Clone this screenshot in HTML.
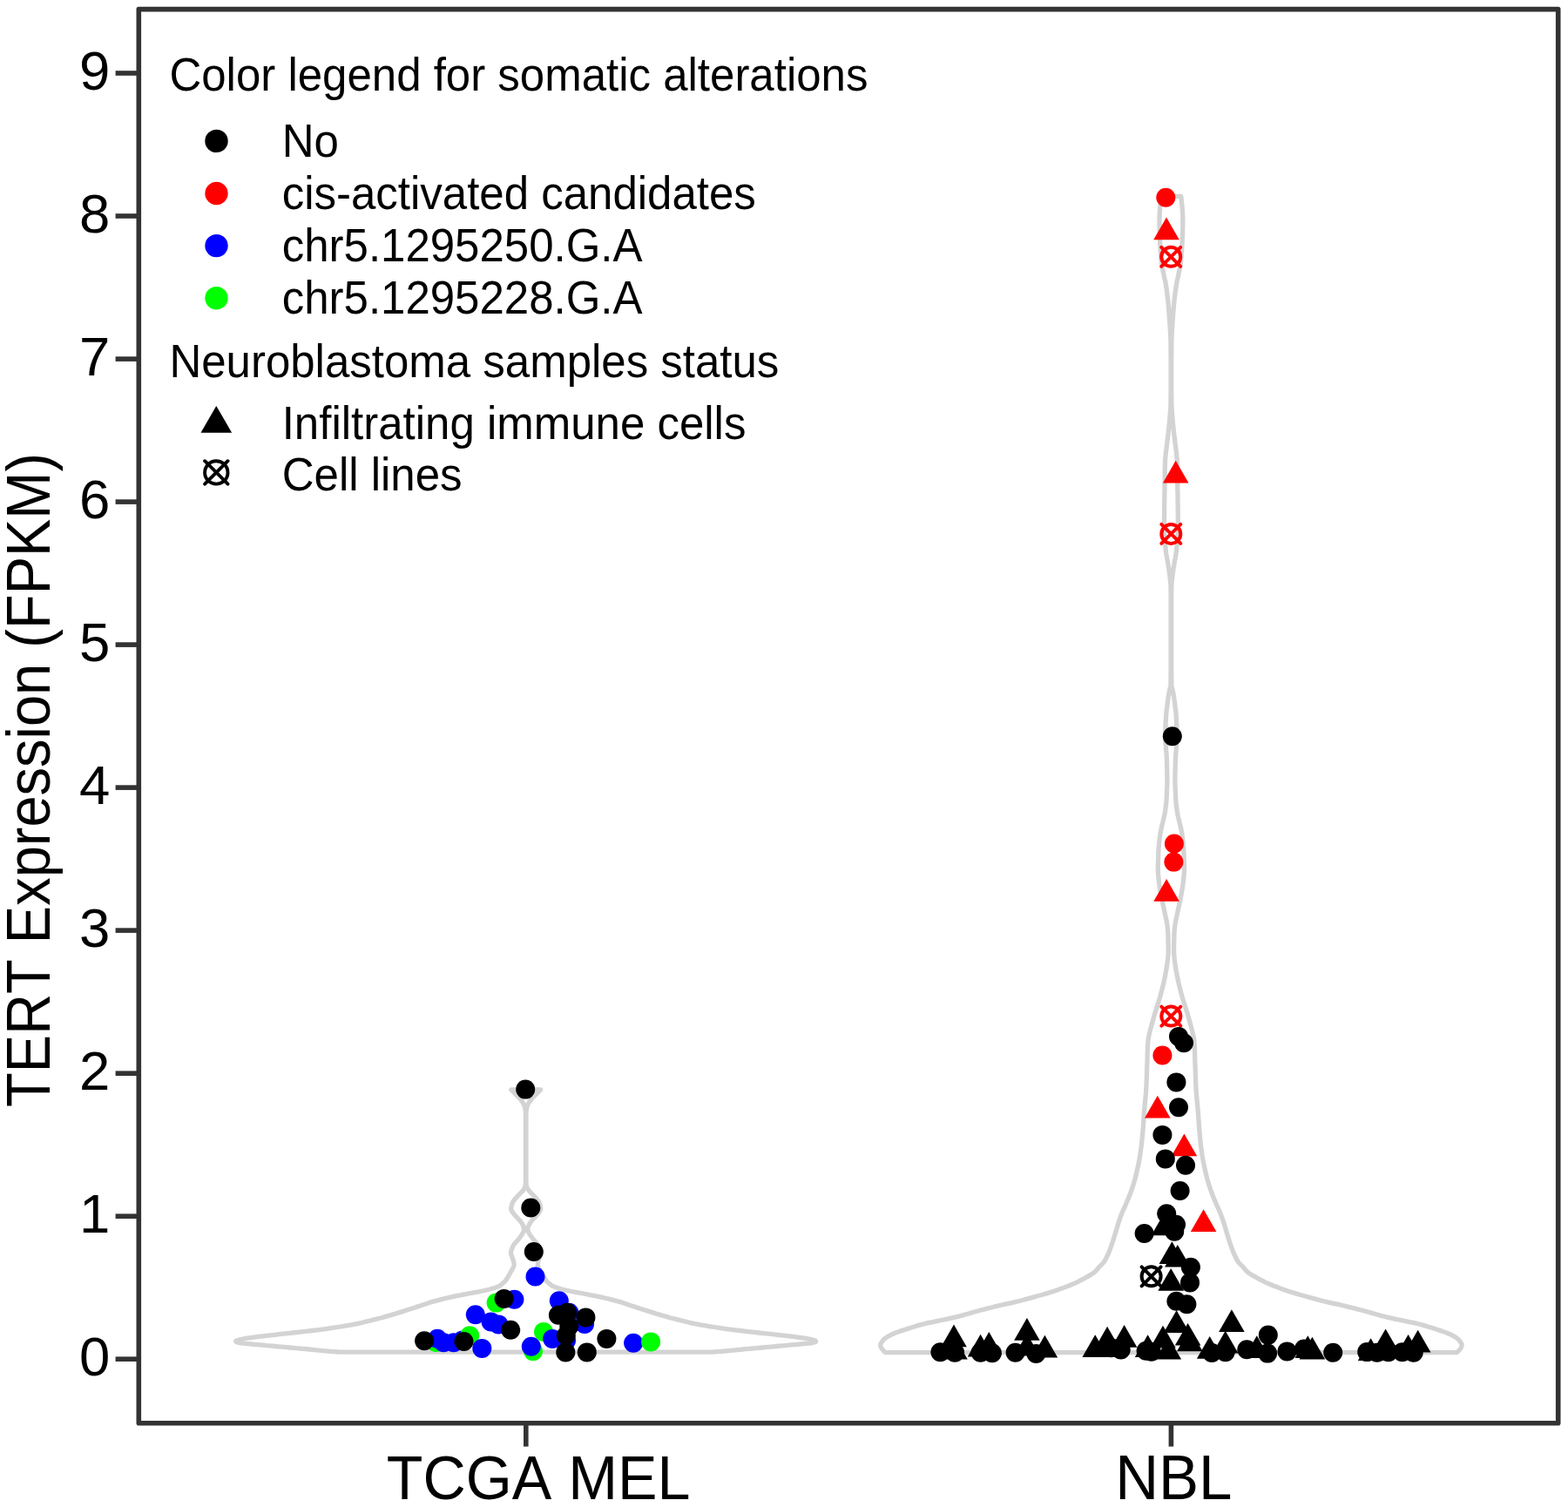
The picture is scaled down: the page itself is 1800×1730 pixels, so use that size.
<!DOCTYPE html>
<html><head><meta charset="utf-8"><title>TERT Expression violin plot</title>
<style>html,body{margin:0;padding:0;background:#fff;}svg{display:block;}text{font-kerning:none;}</style>
</head><body>
<svg width="1800" height="1730" viewBox="0 0 1800 1730">
<rect width="1800" height="1730" fill="#ffffff"/>
<g fill="none" stroke="#d3d3d3" stroke-width="5.3" stroke-linejoin="round">
<path d="M620.7 1251.0 L620.3 1251.4 L619.7 1252.0 L619.0 1252.7 L618.3 1253.4 L617.5 1254.2 L616.7 1255.0 L615.9 1255.8 L615.1 1256.6 L614.2 1257.4 L613.3 1258.3 L612.5 1259.2 L611.7 1260.0 L611.0 1260.8 L610.2 1261.7 L609.5 1262.5 L608.9 1263.3 L608.3 1264.2 L607.7 1265.0 L607.2 1265.8 L606.7 1266.6 L606.3 1267.4 L605.9 1268.3 L605.5 1269.1 L605.2 1270.0 L604.9 1270.8 L604.7 1271.6 L604.5 1272.4 L604.3 1273.4 L604.2 1274.5 L604.1 1276.0 L604.0 1277.3 L604.0 1278.4 L603.9 1279.6 L603.9 1281.6 L603.9 1284.9 L603.9 1290.0 L603.9 1297.9 L603.9 1308.4 L603.9 1320.2 L603.9 1332.0 L603.9 1342.4 L603.9 1350.0 L603.9 1354.6 L604.0 1357.3 L604.0 1358.5 L604.1 1359.0 L604.2 1359.3 L604.3 1360.0 L604.4 1361.0 L604.5 1361.8 L604.6 1362.4 L604.8 1362.9 L605.0 1363.4 L605.3 1364.0 L605.7 1364.7 L606.1 1365.3 L606.6 1366.0 L607.1 1366.7 L607.6 1367.3 L608.2 1368.0 L608.8 1368.7 L609.5 1369.3 L610.2 1370.0 L610.9 1370.7 L611.5 1371.3 L612.2 1372.0 L612.8 1372.7 L613.4 1373.3 L614.0 1374.0 L614.6 1374.7 L615.2 1375.3 L615.7 1376.0 L616.2 1376.6 L616.8 1377.2 L617.3 1377.8 L617.8 1378.5 L618.3 1379.2 L618.7 1380.0 L619.1 1381.0 L619.5 1382.1 L619.9 1383.3 L620.3 1384.5 L620.5 1385.7 L620.7 1386.6 L620.8 1387.3 L620.7 1387.9 L620.6 1388.5 L620.4 1388.9 L620.2 1389.4 L619.9 1390.0 L619.6 1390.6 L619.2 1391.3 L618.8 1391.9 L618.3 1392.6 L617.8 1393.3 L617.2 1394.0 L616.5 1394.8 L615.8 1395.6 L615.0 1396.5 L614.2 1397.4 L613.4 1398.2 L612.7 1399.0 L612.0 1399.7 L611.4 1400.4 L610.8 1401.0 L610.3 1401.6 L609.7 1402.3 L609.2 1403.0 L608.7 1403.8 L608.2 1404.6 L607.7 1405.5 L607.2 1406.4 L606.8 1407.2 L606.5 1408.0 L606.3 1408.7 L606.1 1409.3 L606.0 1409.8 L605.9 1410.4 L605.9 1410.9 L605.9 1411.5 L605.9 1412.1 L606.0 1412.6 L606.2 1413.2 L606.3 1413.7 L606.6 1414.3 L606.9 1415.0 L607.3 1415.7 L607.8 1416.6 L608.4 1417.4 L609.0 1418.3 L609.6 1419.1 L610.2 1420.0 L610.8 1420.8 L611.5 1421.7 L612.2 1422.5 L612.8 1423.3 L613.5 1424.2 L614.2 1425.0 L614.9 1425.8 L615.6 1426.6 L616.3 1427.3 L617.0 1428.1 L617.6 1429.0 L618.2 1430.0 L618.8 1431.2 L619.3 1432.5 L619.9 1433.8 L620.3 1435.2 L620.7 1436.5 L620.9 1437.6 L621.0 1438.5 L620.9 1439.3 L620.7 1440.0 L620.4 1440.6 L620.2 1441.3 L619.9 1442.0 L619.6 1442.8 L619.4 1443.6 L619.0 1444.5 L618.7 1445.3 L618.4 1446.2 L618.2 1447.0 L618.0 1447.8 L617.8 1448.7 L617.6 1449.6 L617.4 1450.4 L617.3 1451.2 L617.3 1452.0 L617.4 1452.7 L617.6 1453.4 L617.8 1454.1 L618.1 1454.7 L618.4 1455.3 L618.7 1456.0 L619.0 1456.7 L619.4 1457.3 L619.8 1458.0 L620.2 1458.7 L620.6 1459.3 L621.0 1460.0 L621.4 1460.7 L621.7 1461.3 L622.1 1462.0 L622.5 1462.7 L622.8 1463.4 L623.2 1464.0 L623.6 1464.6 L623.9 1465.3 L624.3 1465.9 L624.7 1466.5 L625.0 1467.1 L625.4 1467.7 L625.8 1468.3 L626.1 1468.8 L626.5 1469.4 L626.8 1469.9 L627.2 1470.5 L627.7 1471.0 L628.2 1471.5 L628.8 1472.0 L629.4 1472.5 L630.0 1473.0 L630.6 1473.5 L631.2 1474.0 L631.7 1474.4 L632.2 1474.9 L632.6 1475.2 L633.2 1475.6 L633.8 1476.1 L634.7 1476.5 L635.8 1477.0 L637.0 1477.5 L638.4 1478.0 L639.9 1478.5 L641.5 1479.0 L643.2 1479.5 L645.0 1480.0 L647.0 1480.5 L649.1 1481.0 L651.3 1481.5 L653.5 1482.0 L655.7 1482.5 L657.9 1482.9 L660.1 1483.3 L662.3 1483.7 L664.6 1484.1 L667.0 1484.5 L669.7 1485.0 L672.6 1485.6 L675.6 1486.1 L678.8 1486.8 L682.1 1487.4 L685.5 1488.1 L688.9 1488.9 L692.4 1489.7 L696.1 1490.5 L699.8 1491.4 L703.6 1492.4 L707.4 1493.4 L711.1 1494.4 L714.8 1495.5 L718.4 1496.7 L722.1 1497.9 L725.7 1499.2 L729.5 1500.4 L733.3 1501.7 L737.3 1503.0 L741.3 1504.3 L745.5 1505.6 L749.6 1506.9 L753.7 1508.2 L757.7 1509.4 L761.6 1510.5 L765.5 1511.6 L769.3 1512.7 L773.1 1513.7 L776.9 1514.6 L780.7 1515.6 L784.4 1516.5 L788.0 1517.4 L791.5 1518.3 L795.2 1519.1 L799.2 1519.9 L803.7 1520.8 L808.7 1521.7 L814.2 1522.6 L820.1 1523.5 L826.0 1524.4 L831.9 1525.3 L837.7 1526.1 L843.3 1526.8 L849.0 1527.5 L854.6 1528.2 L860.2 1528.8 L865.7 1529.4 L871.1 1530.0 L876.5 1530.6 L881.8 1531.2 L887.1 1531.7 L892.2 1532.3 L897.1 1532.8 L901.7 1533.3 L906.0 1533.8 L910.1 1534.3 L914.0 1534.8 L917.6 1535.3 L920.8 1535.8 L923.7 1536.2 L926.1 1536.6 L928.2 1537.0 L929.9 1537.3 L931.3 1537.7 L932.6 1538.0 L933.7 1538.3 L934.7 1538.6 L935.5 1538.8 L936.1 1539.1 L936.5 1539.3 L936.7 1539.5 L936.7 1539.8 L936.6 1540.1 L936.4 1540.3 L936.0 1540.6 L935.3 1540.9 L934.2 1541.2 L932.7 1541.5 L930.7 1541.8 L928.1 1542.1 L925.3 1542.4 L922.1 1542.7 L918.9 1543.0 L915.7 1543.3 L912.4 1543.6 L909.0 1543.9 L905.4 1544.2 L901.8 1544.6 L898.2 1544.9 L894.7 1545.2 L891.3 1545.5 L888.0 1545.8 L884.8 1546.1 L881.5 1546.4 L878.1 1546.7 L874.7 1547.0 L871.1 1547.3 L867.3 1547.7 L863.5 1548.0 L859.7 1548.4 L856.1 1548.7 L852.7 1549.0 L849.6 1549.3 L846.6 1549.6 L843.9 1549.9 L841.2 1550.1 L838.7 1550.4 L836.3 1550.6 L834.1 1550.8 L832.0 1551.0 L830.0 1551.2 L828.2 1551.3 L826.4 1551.5 L824.7 1551.6 L823.0 1551.7 L821.3 1551.9 L819.7 1552.0 L818.3 1552.1 L817.1 1552.1 L816.2 1552.2 L391.2 1552.2 L390.3 1552.1 L389.1 1552.1 L387.7 1552.0 L386.1 1551.9 L384.4 1551.7 L382.7 1551.6 L381.0 1551.5 L379.2 1551.3 L377.4 1551.2 L375.4 1551.0 L373.3 1550.8 L371.1 1550.6 L368.7 1550.4 L366.2 1550.1 L363.5 1549.9 L360.8 1549.6 L357.8 1549.3 L354.7 1549.0 L351.3 1548.7 L347.7 1548.4 L343.9 1548.0 L340.1 1547.7 L336.3 1547.3 L332.7 1547.0 L329.3 1546.7 L325.9 1546.4 L322.6 1546.1 L319.4 1545.8 L316.1 1545.5 L312.7 1545.2 L309.2 1544.9 L305.6 1544.6 L302.0 1544.2 L298.4 1543.9 L295.0 1543.6 L291.7 1543.3 L288.5 1543.0 L285.3 1542.7 L282.1 1542.4 L279.3 1542.1 L276.7 1541.8 L274.7 1541.5 L273.2 1541.2 L272.1 1540.9 L271.5 1540.6 L271.0 1540.3 L270.8 1540.1 L270.7 1539.8 L270.7 1539.5 L270.9 1539.3 L271.3 1539.1 L271.9 1538.8 L272.7 1538.6 L273.7 1538.3 L274.8 1538.0 L276.1 1537.7 L277.5 1537.3 L279.2 1537.0 L281.3 1536.6 L283.7 1536.2 L286.6 1535.8 L289.8 1535.3 L293.4 1534.8 L297.3 1534.3 L301.4 1533.8 L305.7 1533.3 L310.3 1532.8 L315.2 1532.3 L320.3 1531.7 L325.6 1531.2 L330.9 1530.6 L336.3 1530.0 L341.7 1529.4 L347.2 1528.8 L352.8 1528.2 L358.4 1527.5 L364.1 1526.8 L369.7 1526.1 L375.5 1525.3 L381.4 1524.4 L387.4 1523.5 L393.2 1522.6 L398.7 1521.7 L403.7 1520.8 L408.2 1519.9 L412.2 1519.1 L415.9 1518.3 L419.4 1517.4 L423.0 1516.5 L426.7 1515.6 L430.5 1514.6 L434.3 1513.7 L438.1 1512.7 L441.9 1511.6 L445.8 1510.5 L449.7 1509.4 L453.7 1508.2 L457.8 1506.9 L462.0 1505.6 L466.1 1504.3 L470.1 1503.0 L474.1 1501.7 L477.9 1500.4 L481.7 1499.2 L485.3 1497.9 L489.0 1496.7 L492.6 1495.5 L496.3 1494.4 L500.0 1493.4 L503.8 1492.4 L507.6 1491.4 L511.3 1490.5 L515.0 1489.7 L518.5 1488.9 L521.9 1488.1 L525.3 1487.4 L528.6 1486.8 L531.8 1486.1 L534.8 1485.6 L537.7 1485.0 L540.4 1484.5 L542.8 1484.1 L545.1 1483.7 L547.3 1483.3 L549.5 1482.9 L551.7 1482.5 L553.9 1482.0 L556.1 1481.5 L558.3 1481.0 L560.4 1480.5 L562.4 1480.0 L564.2 1479.5 L565.9 1479.0 L567.5 1478.5 L569.0 1478.0 L570.4 1477.5 L571.6 1477.0 L572.7 1476.5 L573.6 1476.1 L574.2 1475.6 L574.8 1475.2 L575.2 1474.9 L575.7 1474.4 L576.2 1474.0 L576.8 1473.5 L577.4 1473.0 L578.0 1472.5 L578.6 1472.0 L579.2 1471.5 L579.7 1471.0 L580.2 1470.5 L580.6 1469.9 L580.9 1469.4 L581.3 1468.8 L581.6 1468.3 L582.0 1467.7 L582.4 1467.1 L582.7 1466.5 L583.1 1465.9 L583.5 1465.3 L583.8 1464.6 L584.2 1464.0 L584.6 1463.4 L584.9 1462.7 L585.3 1462.0 L585.7 1461.3 L586.0 1460.7 L586.4 1460.0 L586.8 1459.3 L587.2 1458.7 L587.6 1458.0 L588.0 1457.3 L588.4 1456.7 L588.7 1456.0 L589.0 1455.3 L589.3 1454.7 L589.6 1454.1 L589.8 1453.4 L590.0 1452.7 L590.1 1452.0 L590.1 1451.2 L590.0 1450.4 L589.8 1449.6 L589.6 1448.7 L589.4 1447.8 L589.2 1447.0 L589.0 1446.2 L588.7 1445.3 L588.4 1444.5 L588.0 1443.6 L587.8 1442.8 L587.5 1442.0 L587.2 1441.3 L587.0 1440.6 L586.7 1440.0 L586.5 1439.3 L586.4 1438.5 L586.5 1437.6 L586.7 1436.5 L587.1 1435.2 L587.5 1433.8 L588.1 1432.5 L588.6 1431.2 L589.2 1430.0 L589.8 1429.0 L590.4 1428.1 L591.1 1427.3 L591.8 1426.6 L592.5 1425.8 L593.2 1425.0 L593.9 1424.2 L594.6 1423.3 L595.2 1422.5 L595.9 1421.7 L596.6 1420.8 L597.2 1420.0 L597.8 1419.1 L598.4 1418.3 L599.0 1417.4 L599.6 1416.6 L600.1 1415.7 L600.5 1415.0 L600.8 1414.3 L601.1 1413.7 L601.2 1413.2 L601.4 1412.6 L601.5 1412.1 L601.5 1411.5 L601.5 1410.9 L601.5 1410.4 L601.4 1409.8 L601.3 1409.3 L601.1 1408.7 L600.9 1408.0 L600.6 1407.2 L600.2 1406.4 L599.7 1405.5 L599.2 1404.6 L598.7 1403.8 L598.2 1403.0 L597.7 1402.3 L597.1 1401.6 L596.6 1401.0 L596.0 1400.4 L595.4 1399.7 L594.7 1399.0 L594.0 1398.2 L593.2 1397.4 L592.4 1396.5 L591.6 1395.6 L590.9 1394.8 L590.2 1394.0 L589.6 1393.3 L589.1 1392.6 L588.6 1391.9 L588.2 1391.3 L587.8 1390.6 L587.5 1390.0 L587.2 1389.4 L587.0 1388.9 L586.8 1388.5 L586.7 1387.9 L586.6 1387.3 L586.7 1386.6 L586.9 1385.7 L587.1 1384.5 L587.5 1383.3 L587.9 1382.1 L588.3 1381.0 L588.7 1380.0 L589.1 1379.2 L589.6 1378.5 L590.1 1377.8 L590.6 1377.2 L591.2 1376.6 L591.7 1376.0 L592.2 1375.3 L592.8 1374.7 L593.4 1374.0 L594.0 1373.3 L594.6 1372.7 L595.2 1372.0 L595.9 1371.3 L596.5 1370.7 L597.2 1370.0 L597.9 1369.3 L598.6 1368.7 L599.2 1368.0 L599.8 1367.3 L600.3 1366.7 L600.8 1366.0 L601.3 1365.3 L601.7 1364.7 L602.1 1364.0 L602.4 1363.4 L602.6 1362.9 L602.8 1362.4 L602.9 1361.8 L603.0 1361.0 L603.1 1360.0 L603.2 1359.3 L603.3 1359.0 L603.4 1358.5 L603.4 1357.3 L603.5 1354.6 L603.5 1350.0 L603.5 1342.4 L603.5 1332.0 L603.5 1320.2 L603.5 1308.4 L603.5 1297.9 L603.5 1290.0 L603.5 1284.9 L603.5 1281.6 L603.5 1279.6 L603.4 1278.4 L603.4 1277.3 L603.3 1276.0 L603.2 1274.5 L603.1 1273.4 L602.9 1272.4 L602.7 1271.6 L602.5 1270.8 L602.2 1270.0 L601.9 1269.1 L601.5 1268.3 L601.1 1267.4 L600.7 1266.6 L600.2 1265.8 L599.7 1265.0 L599.1 1264.2 L598.5 1263.3 L597.9 1262.5 L597.2 1261.7 L596.4 1260.8 L595.7 1260.0 L594.9 1259.2 L594.1 1258.3 L593.2 1257.4 L592.3 1256.6 L591.5 1255.8 L590.7 1255.0 L589.9 1254.2 L589.1 1253.4 L588.4 1252.7 L587.7 1252.0 L587.1 1251.4 L586.7 1251.0 Z"/>
<path d="M1355.7 225.4 L1355.9 226.8 L1356.1 228.7 L1356.4 230.9 L1356.6 233.3 L1356.9 235.7 L1357.1 238.0 L1357.3 240.1 L1357.4 242.3 L1357.5 244.5 L1357.7 246.7 L1357.7 248.8 L1357.8 251.0 L1357.8 253.2 L1357.8 255.4 L1357.8 257.6 L1357.8 259.7 L1357.7 261.9 L1357.7 264.0 L1357.6 266.0 L1357.6 268.0 L1357.5 269.9 L1357.4 271.9 L1357.3 273.9 L1357.2 276.0 L1357.1 278.2 L1357.0 280.6 L1356.8 283.0 L1356.7 285.4 L1356.6 287.8 L1356.4 290.0 L1356.2 292.1 L1356.1 294.1 L1356.0 296.1 L1355.8 298.0 L1355.6 300.0 L1355.3 302.0 L1355.0 304.1 L1354.6 306.3 L1354.2 308.5 L1353.8 310.7 L1353.3 312.9 L1352.9 315.0 L1352.5 317.0 L1352.1 318.8 L1351.7 320.6 L1351.2 322.5 L1350.8 324.6 L1350.4 327.0 L1350.0 329.8 L1349.5 332.8 L1349.1 336.1 L1348.7 339.4 L1348.3 342.8 L1347.9 346.0 L1347.6 349.2 L1347.3 352.5 L1347.1 355.8 L1346.8 359.0 L1346.6 362.1 L1346.4 365.0 L1346.2 367.8 L1346.0 370.4 L1345.8 373.0 L1345.7 375.4 L1345.5 377.8 L1345.4 380.0 L1345.3 381.9 L1345.2 383.3 L1345.1 384.6 L1345.0 386.1 L1345.0 388.2 L1344.9 391.0 L1344.8 394.7 L1344.8 398.9 L1344.8 403.7 L1344.7 408.9 L1344.7 414.3 L1344.7 420.0 L1344.7 426.3 L1344.7 433.5 L1344.7 441.0 L1344.7 448.3 L1344.8 454.8 L1344.8 460.0 L1344.9 463.7 L1344.9 466.4 L1345.0 468.2 L1345.2 469.7 L1345.3 471.2 L1345.4 473.0 L1345.5 475.1 L1345.7 477.1 L1345.9 479.1 L1346.0 481.0 L1346.2 483.0 L1346.4 485.0 L1346.6 487.0 L1346.8 488.9 L1346.9 490.8 L1347.1 492.7 L1347.4 494.8 L1347.6 497.0 L1347.9 499.4 L1348.2 502.0 L1348.6 504.7 L1348.9 507.5 L1349.3 510.3 L1349.6 513.0 L1349.9 515.6 L1350.2 518.2 L1350.6 520.7 L1350.8 523.4 L1351.1 526.3 L1351.3 529.5 L1351.4 533.1 L1351.5 537.1 L1351.6 541.3 L1351.6 545.6 L1351.6 549.9 L1351.7 554.0 L1351.8 557.9 L1351.8 561.7 L1351.9 565.5 L1352.0 569.4 L1352.0 573.5 L1352.1 578.0 L1352.2 583.1 L1352.2 588.8 L1352.3 594.7 L1352.3 600.4 L1352.3 605.7 L1352.3 610.0 L1352.2 613.3 L1352.1 615.8 L1351.9 617.8 L1351.8 619.4 L1351.6 621.1 L1351.4 623.0 L1351.2 625.1 L1351.0 627.1 L1350.8 629.1 L1350.6 631.0 L1350.4 633.0 L1350.1 635.0 L1349.8 637.0 L1349.4 639.0 L1349.1 641.0 L1348.7 643.0 L1348.3 645.0 L1348.0 647.0 L1347.7 649.0 L1347.3 651.1 L1347.0 653.2 L1346.7 655.2 L1346.5 657.2 L1346.2 659.0 L1346.0 660.7 L1345.8 662.3 L1345.6 663.8 L1345.5 665.3 L1345.3 666.7 L1345.2 668.0 L1345.1 669.1 L1345.0 669.8 L1344.9 670.5 L1344.9 671.4 L1344.8 672.8 L1344.8 675.0 L1344.8 677.5 L1344.7 679.9 L1344.7 682.9 L1344.7 686.9 L1344.7 692.4 L1344.7 700.0 L1344.7 711.1 L1344.7 725.5 L1344.7 741.5 L1344.7 757.3 L1344.7 771.0 L1344.8 781.0 L1344.9 786.7 L1345.0 789.4 L1345.2 790.1 L1345.3 789.8 L1345.5 789.4 L1345.7 790.0 L1345.9 791.3 L1346.1 792.5 L1346.4 793.6 L1346.7 794.8 L1346.9 796.1 L1347.2 797.6 L1347.5 799.4 L1347.8 801.4 L1348.1 803.5 L1348.4 805.7 L1348.6 807.9 L1348.9 810.0 L1349.1 811.9 L1349.4 813.6 L1349.6 815.3 L1349.8 817.1 L1350.0 819.3 L1350.2 822.0 L1350.4 825.3 L1350.6 829.1 L1350.8 833.2 L1351.0 837.6 L1351.1 841.9 L1351.1 846.0 L1351.0 850.0 L1350.7 854.0 L1350.4 857.9 L1350.1 861.9 L1349.7 865.9 L1349.5 870.0 L1349.3 874.2 L1349.2 878.6 L1349.1 883.1 L1349.0 887.4 L1348.9 891.4 L1348.9 895.0 L1348.9 898.1 L1349.0 900.9 L1349.1 903.4 L1349.2 905.7 L1349.3 907.9 L1349.4 910.0 L1349.5 911.9 L1349.5 913.5 L1349.6 915.0 L1349.6 916.5 L1349.7 918.1 L1349.9 920.0 L1350.1 922.2 L1350.4 924.5 L1350.7 927.0 L1351.0 929.6 L1351.4 932.3 L1351.9 935.0 L1352.5 937.8 L1353.2 940.7 L1353.9 943.7 L1354.7 946.6 L1355.4 949.6 L1356.0 952.4 L1356.5 955.1 L1356.9 957.7 L1357.3 960.2 L1357.6 962.8 L1357.9 965.4 L1358.2 968.0 L1358.4 970.7 L1358.7 973.5 L1358.8 976.3 L1359.0 979.1 L1359.1 981.9 L1359.2 984.7 L1359.3 987.4 L1359.4 990.2 L1359.5 992.9 L1359.5 995.6 L1359.5 998.3 L1359.4 1001.0 L1359.2 1003.7 L1359.0 1006.4 L1358.7 1009.0 L1358.4 1011.7 L1358.1 1014.3 L1357.7 1017.0 L1357.3 1019.7 L1356.9 1022.3 L1356.4 1024.9 L1355.9 1027.6 L1355.4 1030.3 L1354.9 1033.0 L1354.3 1035.8 L1353.7 1038.6 L1353.0 1041.5 L1352.4 1044.4 L1351.8 1047.2 L1351.2 1050.0 L1350.7 1052.6 L1350.1 1055.1 L1349.6 1057.6 L1349.2 1060.1 L1348.7 1062.9 L1348.4 1066.0 L1348.1 1069.7 L1347.9 1073.9 L1347.8 1078.4 L1347.7 1082.7 L1347.6 1086.7 L1347.6 1090.0 L1347.6 1092.4 L1347.6 1094.2 L1347.7 1095.6 L1347.9 1096.9 L1348.0 1098.3 L1348.2 1100.0 L1348.4 1102.1 L1348.7 1104.3 L1349.0 1106.6 L1349.3 1109.0 L1349.7 1111.5 L1350.1 1114.0 L1350.6 1116.5 L1351.1 1119.2 L1351.6 1121.8 L1352.2 1124.6 L1352.8 1127.3 L1353.4 1130.0 L1354.1 1132.8 L1354.8 1135.6 L1355.5 1138.5 L1356.3 1141.4 L1357.0 1144.0 L1357.7 1146.5 L1358.4 1148.7 L1359.0 1150.6 L1359.6 1152.5 L1360.2 1154.2 L1360.8 1156.1 L1361.4 1158.0 L1362.0 1160.1 L1362.7 1162.2 L1363.3 1164.4 L1364.0 1166.6 L1364.6 1168.8 L1365.2 1171.0 L1365.8 1173.2 L1366.4 1175.3 L1367.0 1177.5 L1367.6 1179.7 L1368.2 1181.9 L1368.7 1184.0 L1369.2 1186.0 L1369.6 1187.7 L1370.0 1189.5 L1370.4 1191.4 L1370.7 1193.7 L1371.0 1196.6 L1371.2 1200.2 L1371.4 1204.4 L1371.6 1208.9 L1371.7 1213.6 L1371.8 1218.4 L1372.0 1223.0 L1372.2 1227.5 L1372.3 1232.0 L1372.4 1236.5 L1372.6 1241.1 L1372.8 1245.6 L1373.0 1250.0 L1373.3 1254.4 L1373.7 1258.7 L1374.1 1263.0 L1374.5 1267.3 L1374.9 1271.6 L1375.3 1276.0 L1375.6 1280.4 L1375.9 1284.9 L1376.2 1289.5 L1376.5 1294.0 L1376.9 1298.5 L1377.3 1303.0 L1377.7 1307.4 L1378.2 1311.9 L1378.7 1316.3 L1379.3 1320.7 L1379.9 1325.1 L1380.6 1329.5 L1381.4 1334.0 L1382.4 1338.6 L1383.4 1343.2 L1384.4 1347.6 L1385.5 1352.0 L1386.6 1356.0 L1387.7 1359.7 L1388.8 1363.1 L1389.9 1366.4 L1391.1 1369.6 L1392.3 1372.7 L1393.6 1376.0 L1395.0 1379.3 L1396.4 1382.7 L1397.9 1386.0 L1399.5 1389.4 L1400.9 1392.7 L1402.2 1396.0 L1403.4 1399.3 L1404.5 1402.6 L1405.5 1405.9 L1406.5 1409.2 L1407.4 1412.4 L1408.4 1415.6 L1409.4 1418.7 L1410.3 1421.8 L1411.3 1424.8 L1412.3 1427.8 L1413.2 1430.6 L1414.2 1433.3 L1415.2 1435.9 L1416.2 1438.4 L1417.2 1440.8 L1418.3 1443.0 L1419.3 1445.1 L1420.4 1447.0 L1421.5 1448.7 L1422.8 1450.2 L1424.0 1451.5 L1425.2 1452.8 L1426.4 1453.9 L1427.4 1455.0 L1428.3 1456.0 L1429.0 1456.9 L1429.7 1457.7 L1430.3 1458.5 L1431.1 1459.2 L1431.9 1460.0 L1432.7 1460.7 L1433.5 1461.3 L1434.4 1462.0 L1435.4 1462.6 L1436.7 1463.4 L1438.4 1464.4 L1440.6 1465.6 L1443.1 1467.1 L1445.9 1468.6 L1449.0 1470.2 L1452.2 1471.8 L1455.4 1473.3 L1458.8 1474.7 L1462.4 1476.2 L1466.1 1477.6 L1469.9 1479.1 L1473.7 1480.4 L1477.4 1481.7 L1481.1 1482.9 L1484.7 1484.1 L1488.3 1485.1 L1492.0 1486.2 L1495.7 1487.2 L1499.4 1488.3 L1503.2 1489.4 L1507.0 1490.4 L1510.9 1491.4 L1514.8 1492.5 L1518.6 1493.5 L1522.4 1494.4 L1526.1 1495.3 L1529.8 1496.1 L1533.5 1496.9 L1537.1 1497.7 L1540.7 1498.5 L1544.4 1499.4 L1548.1 1500.3 L1551.7 1501.2 L1555.4 1502.1 L1559.0 1503.1 L1562.7 1504.0 L1566.4 1505.0 L1570.2 1506.0 L1574.0 1507.1 L1577.8 1508.2 L1581.6 1509.3 L1585.3 1510.4 L1588.9 1511.3 L1592.4 1512.1 L1595.8 1512.9 L1599.1 1513.6 L1602.3 1514.3 L1605.6 1515.0 L1608.9 1515.7 L1612.2 1516.4 L1615.6 1517.1 L1618.9 1517.8 L1622.2 1518.4 L1625.6 1519.2 L1628.9 1520.0 L1632.3 1520.9 L1635.8 1521.9 L1639.3 1523.0 L1642.7 1524.0 L1646.0 1525.1 L1648.9 1526.0 L1651.5 1526.9 L1654.0 1527.6 L1656.2 1528.4 L1658.3 1529.1 L1660.3 1529.9 L1662.2 1530.7 L1664.1 1531.5 L1666.0 1532.4 L1667.7 1533.3 L1669.4 1534.2 L1670.9 1535.1 L1672.2 1536.0 L1673.3 1536.9 L1674.3 1537.8 L1675.2 1538.8 L1675.9 1539.7 L1676.5 1540.5 L1677.0 1541.3 L1677.4 1542.0 L1677.7 1542.5 L1677.9 1543.0 L1678.0 1543.5 L1678.0 1544.0 L1678.0 1544.5 L1678.0 1545.0 L1677.9 1545.5 L1677.7 1546.0 L1677.5 1546.5 L1677.3 1547.0 L1677.0 1547.5 L1676.7 1548.0 L1676.4 1548.5 L1676.0 1548.9 L1675.6 1549.4 L1675.2 1549.9 L1674.8 1550.3 L1674.4 1550.8 L1673.9 1551.2 L1673.5 1551.7 L1673.0 1552.1 L1672.7 1552.4 L1672.4 1552.7 L1016.4 1552.7 L1016.1 1552.4 L1015.8 1552.1 L1015.3 1551.7 L1014.9 1551.2 L1014.4 1550.8 L1014.0 1550.3 L1013.6 1549.9 L1013.2 1549.4 L1012.8 1548.9 L1012.4 1548.5 L1012.1 1548.0 L1011.8 1547.5 L1011.5 1547.0 L1011.3 1546.5 L1011.1 1546.0 L1010.9 1545.5 L1010.8 1545.0 L1010.8 1544.5 L1010.8 1544.0 L1010.8 1543.5 L1010.9 1543.0 L1011.1 1542.5 L1011.4 1542.0 L1011.8 1541.3 L1012.3 1540.5 L1012.9 1539.7 L1013.6 1538.8 L1014.5 1537.8 L1015.5 1536.9 L1016.6 1536.0 L1017.9 1535.1 L1019.4 1534.2 L1021.1 1533.3 L1022.8 1532.4 L1024.7 1531.5 L1026.6 1530.7 L1028.5 1529.9 L1030.5 1529.1 L1032.6 1528.4 L1034.8 1527.6 L1037.3 1526.9 L1039.9 1526.0 L1042.8 1525.1 L1046.1 1524.0 L1049.5 1523.0 L1053.0 1521.9 L1056.5 1520.9 L1059.9 1520.0 L1063.2 1519.2 L1066.6 1518.4 L1069.9 1517.8 L1073.2 1517.1 L1076.6 1516.4 L1079.9 1515.7 L1083.2 1515.0 L1086.5 1514.3 L1089.7 1513.6 L1093.0 1512.9 L1096.4 1512.1 L1099.9 1511.3 L1103.5 1510.4 L1107.2 1509.3 L1111.0 1508.2 L1114.8 1507.1 L1118.7 1506.0 L1122.4 1505.0 L1126.1 1504.0 L1129.8 1503.1 L1133.4 1502.1 L1137.1 1501.2 L1140.7 1500.3 L1144.4 1499.4 L1148.1 1498.5 L1151.7 1497.7 L1155.3 1496.9 L1159.0 1496.1 L1162.7 1495.3 L1166.4 1494.4 L1170.2 1493.5 L1174.0 1492.5 L1177.9 1491.4 L1181.8 1490.4 L1185.6 1489.4 L1189.4 1488.3 L1193.1 1487.2 L1196.8 1486.2 L1200.5 1485.1 L1204.1 1484.1 L1207.7 1482.9 L1211.4 1481.7 L1215.1 1480.4 L1218.9 1479.1 L1222.7 1477.6 L1226.4 1476.2 L1230.0 1474.7 L1233.4 1473.3 L1236.6 1471.8 L1239.8 1470.2 L1242.9 1468.6 L1245.7 1467.1 L1248.2 1465.6 L1250.4 1464.4 L1252.1 1463.4 L1253.4 1462.6 L1254.4 1462.0 L1255.3 1461.3 L1256.1 1460.7 L1256.9 1460.0 L1257.7 1459.2 L1258.5 1458.5 L1259.1 1457.7 L1259.8 1456.9 L1260.5 1456.0 L1261.4 1455.0 L1262.4 1453.9 L1263.6 1452.8 L1264.8 1451.5 L1266.0 1450.2 L1267.3 1448.7 L1268.4 1447.0 L1269.5 1445.1 L1270.5 1443.0 L1271.6 1440.8 L1272.6 1438.4 L1273.6 1435.9 L1274.6 1433.3 L1275.6 1430.6 L1276.5 1427.8 L1277.5 1424.8 L1278.5 1421.8 L1279.4 1418.7 L1280.4 1415.6 L1281.4 1412.4 L1282.3 1409.2 L1283.3 1405.9 L1284.3 1402.6 L1285.4 1399.3 L1286.6 1396.0 L1287.9 1392.7 L1289.3 1389.4 L1290.9 1386.0 L1292.4 1382.7 L1293.8 1379.3 L1295.2 1376.0 L1296.5 1372.7 L1297.7 1369.6 L1298.9 1366.4 L1300.0 1363.1 L1301.1 1359.7 L1302.2 1356.0 L1303.3 1352.0 L1304.4 1347.6 L1305.4 1343.2 L1306.4 1338.6 L1307.4 1334.0 L1308.2 1329.5 L1308.9 1325.1 L1309.5 1320.7 L1310.1 1316.3 L1310.6 1311.9 L1311.1 1307.4 L1311.5 1303.0 L1311.9 1298.5 L1312.3 1294.0 L1312.6 1289.5 L1312.9 1284.9 L1313.2 1280.4 L1313.5 1276.0 L1313.9 1271.6 L1314.3 1267.3 L1314.7 1263.0 L1315.1 1258.7 L1315.5 1254.4 L1315.8 1250.0 L1316.0 1245.6 L1316.2 1241.1 L1316.4 1236.5 L1316.5 1232.0 L1316.6 1227.5 L1316.8 1223.0 L1317.0 1218.4 L1317.1 1213.6 L1317.2 1208.9 L1317.4 1204.4 L1317.6 1200.2 L1317.8 1196.6 L1318.1 1193.7 L1318.4 1191.4 L1318.8 1189.5 L1319.2 1187.7 L1319.6 1186.0 L1320.1 1184.0 L1320.6 1181.9 L1321.2 1179.7 L1321.8 1177.5 L1322.4 1175.3 L1323.0 1173.2 L1323.6 1171.0 L1324.2 1168.8 L1324.8 1166.6 L1325.5 1164.4 L1326.1 1162.2 L1326.8 1160.1 L1327.4 1158.0 L1328.0 1156.1 L1328.6 1154.2 L1329.2 1152.5 L1329.8 1150.6 L1330.4 1148.7 L1331.1 1146.5 L1331.8 1144.0 L1332.5 1141.4 L1333.3 1138.5 L1334.0 1135.6 L1334.7 1132.8 L1335.4 1130.0 L1336.0 1127.3 L1336.6 1124.6 L1337.2 1121.8 L1337.7 1119.2 L1338.2 1116.5 L1338.7 1114.0 L1339.1 1111.5 L1339.5 1109.0 L1339.8 1106.6 L1340.1 1104.3 L1340.4 1102.1 L1340.6 1100.0 L1340.8 1098.3 L1340.9 1096.9 L1341.1 1095.6 L1341.2 1094.2 L1341.2 1092.4 L1341.2 1090.0 L1341.2 1086.7 L1341.1 1082.7 L1341.0 1078.4 L1340.9 1073.9 L1340.7 1069.7 L1340.4 1066.0 L1340.1 1062.9 L1339.6 1060.1 L1339.2 1057.6 L1338.7 1055.1 L1338.1 1052.6 L1337.6 1050.0 L1337.0 1047.2 L1336.4 1044.4 L1335.8 1041.5 L1335.1 1038.6 L1334.5 1035.8 L1333.9 1033.0 L1333.4 1030.3 L1332.9 1027.6 L1332.4 1024.9 L1331.9 1022.3 L1331.5 1019.7 L1331.1 1017.0 L1330.7 1014.3 L1330.4 1011.7 L1330.1 1009.0 L1329.8 1006.4 L1329.6 1003.7 L1329.4 1001.0 L1329.3 998.3 L1329.3 995.6 L1329.3 992.9 L1329.4 990.2 L1329.5 987.4 L1329.6 984.7 L1329.7 981.9 L1329.8 979.1 L1330.0 976.3 L1330.1 973.5 L1330.4 970.7 L1330.6 968.0 L1330.9 965.4 L1331.2 962.8 L1331.5 960.2 L1331.9 957.7 L1332.3 955.1 L1332.8 952.4 L1333.4 949.6 L1334.1 946.6 L1334.9 943.7 L1335.6 940.7 L1336.3 937.8 L1336.9 935.0 L1337.4 932.3 L1337.8 929.6 L1338.1 927.0 L1338.4 924.5 L1338.7 922.2 L1338.9 920.0 L1339.1 918.1 L1339.2 916.5 L1339.2 915.0 L1339.3 913.5 L1339.3 911.9 L1339.4 910.0 L1339.5 907.9 L1339.6 905.7 L1339.7 903.4 L1339.8 900.9 L1339.9 898.1 L1339.9 895.0 L1339.9 891.4 L1339.8 887.4 L1339.7 883.1 L1339.6 878.6 L1339.5 874.2 L1339.3 870.0 L1339.1 865.9 L1338.7 861.9 L1338.4 857.9 L1338.1 854.0 L1337.8 850.0 L1337.7 846.0 L1337.7 841.9 L1337.8 837.6 L1338.0 833.2 L1338.2 829.1 L1338.4 825.3 L1338.6 822.0 L1338.8 819.3 L1339.0 817.1 L1339.2 815.3 L1339.4 813.6 L1339.7 811.9 L1339.9 810.0 L1340.2 807.9 L1340.4 805.7 L1340.7 803.5 L1341.0 801.4 L1341.3 799.4 L1341.6 797.6 L1341.9 796.1 L1342.1 794.8 L1342.4 793.6 L1342.7 792.5 L1342.9 791.3 L1343.1 790.0 L1343.3 789.4 L1343.5 789.8 L1343.6 790.1 L1343.8 789.4 L1343.9 786.7 L1344.0 781.0 L1344.1 771.0 L1344.1 757.3 L1344.1 741.5 L1344.1 725.5 L1344.1 711.1 L1344.1 700.0 L1344.1 692.4 L1344.1 686.9 L1344.1 682.9 L1344.1 679.9 L1344.0 677.5 L1344.0 675.0 L1344.0 672.8 L1343.9 671.4 L1343.9 670.5 L1343.8 669.8 L1343.7 669.1 L1343.6 668.0 L1343.5 666.7 L1343.3 665.3 L1343.2 663.8 L1343.0 662.3 L1342.8 660.7 L1342.6 659.0 L1342.3 657.2 L1342.1 655.2 L1341.8 653.2 L1341.5 651.1 L1341.1 649.0 L1340.8 647.0 L1340.5 645.0 L1340.1 643.0 L1339.7 641.0 L1339.4 639.0 L1339.0 637.0 L1338.7 635.0 L1338.4 633.0 L1338.2 631.0 L1338.0 629.1 L1337.8 627.1 L1337.6 625.1 L1337.4 623.0 L1337.2 621.1 L1337.0 619.4 L1336.9 617.8 L1336.7 615.8 L1336.6 613.3 L1336.5 610.0 L1336.5 605.7 L1336.5 600.4 L1336.5 594.7 L1336.6 588.8 L1336.6 583.1 L1336.7 578.0 L1336.8 573.5 L1336.8 569.4 L1336.9 565.5 L1337.0 561.7 L1337.0 557.9 L1337.1 554.0 L1337.2 549.9 L1337.2 545.6 L1337.2 541.3 L1337.3 537.1 L1337.4 533.1 L1337.5 529.5 L1337.7 526.3 L1338.0 523.4 L1338.2 520.7 L1338.6 518.2 L1338.9 515.6 L1339.2 513.0 L1339.5 510.3 L1339.9 507.5 L1340.2 504.7 L1340.6 502.0 L1340.9 499.4 L1341.2 497.0 L1341.4 494.8 L1341.7 492.7 L1341.9 490.8 L1342.0 488.9 L1342.2 487.0 L1342.4 485.0 L1342.6 483.0 L1342.8 481.0 L1342.9 479.1 L1343.1 477.1 L1343.3 475.1 L1343.4 473.0 L1343.5 471.2 L1343.6 469.7 L1343.8 468.2 L1343.9 466.4 L1343.9 463.7 L1344.0 460.0 L1344.0 454.8 L1344.1 448.3 L1344.1 441.0 L1344.1 433.5 L1344.1 426.3 L1344.1 420.0 L1344.1 414.3 L1344.1 408.9 L1344.0 403.7 L1344.0 398.9 L1344.0 394.7 L1343.9 391.0 L1343.8 388.2 L1343.8 386.1 L1343.7 384.6 L1343.6 383.3 L1343.5 381.9 L1343.4 380.0 L1343.3 377.8 L1343.1 375.4 L1343.0 373.0 L1342.8 370.4 L1342.6 367.8 L1342.4 365.0 L1342.2 362.1 L1342.0 359.0 L1341.7 355.8 L1341.5 352.5 L1341.2 349.2 L1340.9 346.0 L1340.5 342.8 L1340.1 339.4 L1339.7 336.1 L1339.3 332.8 L1338.8 329.8 L1338.4 327.0 L1338.0 324.6 L1337.6 322.5 L1337.1 320.6 L1336.7 318.8 L1336.3 317.0 L1335.9 315.0 L1335.5 312.9 L1335.0 310.7 L1334.6 308.5 L1334.2 306.3 L1333.8 304.1 L1333.5 302.0 L1333.2 300.0 L1333.0 298.0 L1332.8 296.1 L1332.7 294.1 L1332.6 292.1 L1332.4 290.0 L1332.2 287.8 L1332.1 285.4 L1332.0 283.0 L1331.8 280.6 L1331.7 278.2 L1331.6 276.0 L1331.5 273.9 L1331.4 271.9 L1331.3 269.9 L1331.2 268.0 L1331.2 266.0 L1331.1 264.0 L1331.1 261.9 L1331.0 259.7 L1331.0 257.6 L1331.0 255.4 L1331.0 253.2 L1331.0 251.0 L1331.1 248.8 L1331.1 246.7 L1331.3 244.5 L1331.4 242.3 L1331.5 240.1 L1331.7 238.0 L1331.9 235.7 L1332.2 233.3 L1332.4 230.9 L1332.7 228.7 L1332.9 226.8 L1333.1 225.4 Z"/>
</g>
<circle cx="603.2" cy="1250.6" r="11.0" fill="#000000"/>
<circle cx="609.3" cy="1386.5" r="11.0" fill="#000000"/>
<circle cx="612.8" cy="1437.0" r="11.0" fill="#000000"/>
<circle cx="614.5" cy="1465.5" r="11.0" fill="#0000ff"/>
<circle cx="569.6" cy="1495.6" r="11.0" fill="#00ff00"/>
<circle cx="590.4" cy="1491.7" r="11.0" fill="#0000ff"/>
<circle cx="578.6" cy="1490.9" r="11.0" fill="#000000"/>
<circle cx="545.8" cy="1509.2" r="11.0" fill="#0000ff"/>
<circle cx="563.6" cy="1517.5" r="11.0" fill="#0000ff"/>
<circle cx="572.3" cy="1520.4" r="11.0" fill="#0000ff"/>
<circle cx="586.2" cy="1526.7" r="11.0" fill="#000000"/>
<circle cx="500.4" cy="1541.0" r="11.0" fill="#00ff00"/>
<circle cx="502.1" cy="1536.7" r="11.0" fill="#0000ff"/>
<circle cx="509.2" cy="1541.2" r="11.0" fill="#0000ff"/>
<circle cx="520.8" cy="1541.2" r="11.0" fill="#0000ff"/>
<circle cx="531.0" cy="1538.5" r="11.0" fill="#0000ff"/>
<circle cx="539.2" cy="1533.3" r="11.0" fill="#00ff00"/>
<circle cx="532.5" cy="1540.0" r="11.0" fill="#000000"/>
<circle cx="487.1" cy="1539.2" r="11.0" fill="#000000"/>
<circle cx="553.3" cy="1547.9" r="11.0" fill="#0000ff"/>
<circle cx="612.0" cy="1551.1" r="11.0" fill="#00ff00"/>
<circle cx="609.8" cy="1545.8" r="11.0" fill="#0000ff"/>
<circle cx="624.0" cy="1528.9" r="11.0" fill="#00ff00"/>
<circle cx="634.2" cy="1536.9" r="11.0" fill="#0000ff"/>
<circle cx="641.8" cy="1493.3" r="11.0" fill="#0000ff"/>
<circle cx="653.3" cy="1506.7" r="11.0" fill="#0000ff"/>
<circle cx="671.1" cy="1520.0" r="11.0" fill="#0000ff"/>
<circle cx="650.0" cy="1539.0" r="11.0" fill="#0000ff"/>
<circle cx="640.9" cy="1509.8" r="11.0" fill="#000000"/>
<circle cx="651.1" cy="1506.7" r="11.0" fill="#000000"/>
<circle cx="672.4" cy="1512.4" r="11.0" fill="#000000"/>
<circle cx="653.3" cy="1522.7" r="11.0" fill="#000000"/>
<circle cx="649.8" cy="1533.3" r="11.0" fill="#000000"/>
<circle cx="649.3" cy="1552.4" r="11.0" fill="#000000"/>
<circle cx="673.8" cy="1552.4" r="11.0" fill="#000000"/>
<circle cx="696.4" cy="1536.9" r="11.0" fill="#000000"/>
<circle cx="727.1" cy="1541.8" r="11.0" fill="#0000ff"/>
<circle cx="747.1" cy="1540.4" r="11.0" fill="#00ff00"/>
<circle cx="1338.3" cy="226.7" r="11.0" fill="#ff0000"/>
<path d="M1339.0 249.6 L1353.8 275.3 L1324.2 275.3Z" fill="#ff0000"/>
<g fill="none" stroke="#ff0000" stroke-width="4.0" stroke-linecap="round"><circle cx="1344.2" cy="294.8" r="11.0"/><path d="M1333.2 283.8 L1355.2 305.8 M1333.2 305.8 L1355.2 283.8"/></g>
<path d="M1349.7 528.7 L1364.5 554.4 L1334.9 554.4Z" fill="#ff0000"/>
<g fill="none" stroke="#ff0000" stroke-width="4.0" stroke-linecap="round"><circle cx="1344.3" cy="612.9" r="11.0"/><path d="M1333.3 601.9 L1355.3 623.9 M1333.3 623.9 L1355.3 601.9"/></g>
<circle cx="1345.8" cy="845.3" r="11.0" fill="#000000"/>
<circle cx="1347.9" cy="968.5" r="11.0" fill="#ff0000"/>
<circle cx="1347.4" cy="989.6" r="11.0" fill="#ff0000"/>
<path d="M1339.1 1009.0 L1353.9 1034.7 L1324.3 1034.7Z" fill="#ff0000"/>
<g fill="none" stroke="#ff0000" stroke-width="4.0" stroke-linecap="round"><circle cx="1344.3" cy="1166.6" r="11.0"/><path d="M1333.3 1155.6 L1355.3 1177.6 M1333.3 1177.6 L1355.3 1155.6"/></g>
<circle cx="1353.0" cy="1189.9" r="11.0" fill="#000000"/>
<circle cx="1359.0" cy="1197.2" r="11.0" fill="#000000"/>
<circle cx="1334.4" cy="1211.5" r="11.0" fill="#ff0000"/>
<circle cx="1350.4" cy="1242.4" r="11.0" fill="#000000"/>
<path d="M1328.8 1257.7 L1343.6 1283.4 L1314.0 1283.4Z" fill="#ff0000"/>
<circle cx="1353.0" cy="1271.3" r="11.0" fill="#000000"/>
<circle cx="1334.4" cy="1302.9" r="11.0" fill="#000000"/>
<path d="M1359.4 1301.6 L1374.2 1327.3 L1344.6 1327.3Z" fill="#ff0000"/>
<circle cx="1337.8" cy="1330.4" r="11.0" fill="#000000"/>
<circle cx="1361.0" cy="1337.7" r="11.0" fill="#000000"/>
<circle cx="1354.6" cy="1367.0" r="11.0" fill="#000000"/>
<path d="M1336.4 1392.6 L1351.2 1418.3 L1321.6 1418.3Z" fill="#000000"/>
<circle cx="1339.2" cy="1393.3" r="11.0" fill="#000000"/>
<circle cx="1350.0" cy="1405.8" r="11.0" fill="#000000"/>
<circle cx="1348.2" cy="1413.8" r="11.0" fill="#000000"/>
<circle cx="1313.6" cy="1416.0" r="11.0" fill="#000000"/>
<path d="M1381.6 1388.2 L1396.4 1413.9 L1366.8 1413.9Z" fill="#ff0000"/>
<path d="M1345.4 1425.2 L1360.2 1450.9 L1330.6 1450.9Z" fill="#000000"/>
<path d="M1351.8 1428.9 L1366.6 1454.6 L1337.0 1454.6Z" fill="#000000"/>
<circle cx="1366.9" cy="1454.7" r="11.0" fill="#000000"/>
<g fill="none" stroke="#000000" stroke-width="4.0" stroke-linecap="round"><circle cx="1321.6" cy="1465.3" r="11.0"/><path d="M1310.6 1454.3 L1332.6 1476.3 M1310.6 1476.3 L1332.6 1454.3"/></g>
<path d="M1344.2 1456.0 L1359.0 1481.7 L1329.4 1481.7Z" fill="#000000"/>
<circle cx="1366.0" cy="1472.4" r="11.0" fill="#000000"/>
<circle cx="1350.4" cy="1493.8" r="11.0" fill="#000000"/>
<circle cx="1362.4" cy="1497.3" r="11.0" fill="#000000"/>
<path d="M1350.6 1504.2 L1365.4 1529.9 L1335.8 1529.9Z" fill="#000000"/>
<path d="M1365.8 1525.5 L1380.6 1551.2 L1351.0 1551.2Z" fill="#000000"/>
<path d="M1363.6 1518.9 L1378.4 1544.6 L1348.8 1544.6Z" fill="#000000"/>
<path d="M1413.9 1503.3 L1428.7 1529.0 L1399.1 1529.0Z" fill="#000000"/>
<circle cx="1079.4" cy="1552.2" r="11.0" fill="#000000"/>
<path d="M1095.0 1520.6 L1109.8 1546.3 L1080.2 1546.3Z" fill="#000000"/>
<circle cx="1096.1" cy="1552.8" r="11.0" fill="#000000"/>
<path d="M1096.0 1534.9 L1110.8 1560.6 L1081.2 1560.6Z" fill="#000000"/>
<path d="M1125.6 1531.7 L1140.4 1557.4 L1110.8 1557.4Z" fill="#000000"/>
<path d="M1135.3 1529.1 L1150.1 1554.8 L1120.5 1554.8Z" fill="#000000"/>
<circle cx="1125.6" cy="1552.8" r="11.0" fill="#000000"/>
<circle cx="1138.9" cy="1553.3" r="11.0" fill="#000000"/>
<path d="M1178.9 1513.1 L1193.7 1538.8 L1164.1 1538.8Z" fill="#000000"/>
<path d="M1178.9 1530.9 L1193.7 1556.6 L1164.1 1556.6Z" fill="#000000"/>
<circle cx="1165.6" cy="1552.8" r="11.0" fill="#000000"/>
<circle cx="1189.4" cy="1553.9" r="11.0" fill="#000000"/>
<path d="M1199.4 1532.8 L1214.2 1558.5 L1184.6 1558.5Z" fill="#000000"/>
<path d="M1257.2 1532.2 L1272.0 1557.9 L1242.4 1557.9Z" fill="#000000"/>
<path d="M1271.1 1522.8 L1285.9 1548.5 L1256.3 1548.5Z" fill="#000000"/>
<path d="M1290.6 1521.1 L1305.4 1546.8 L1275.8 1546.8Z" fill="#000000"/>
<circle cx="1275.6" cy="1547.3" r="11.0" fill="#000000"/>
<circle cx="1286.7" cy="1549.5" r="11.0" fill="#000000"/>
<path d="M1317.6 1532.2 L1332.4 1557.9 L1302.8 1557.9Z" fill="#000000"/>
<path d="M1335.0 1521.7 L1349.8 1547.4 L1320.2 1547.4Z" fill="#000000"/>
<path d="M1341.3 1534.9 L1356.1 1560.6 L1326.5 1560.6Z" fill="#000000"/>
<circle cx="1315.6" cy="1550.7" r="11.0" fill="#000000"/>
<circle cx="1321.7" cy="1551.8" r="11.0" fill="#000000"/>
<path d="M1406.7 1527.8 L1421.5 1553.5 L1391.9 1553.5Z" fill="#000000"/>
<path d="M1388.7 1534.1 L1403.5 1559.8 L1373.9 1559.8Z" fill="#000000"/>
<circle cx="1391.1" cy="1552.9" r="11.0" fill="#000000"/>
<circle cx="1406.7" cy="1552.3" r="11.0" fill="#000000"/>
<circle cx="1431.3" cy="1549.2" r="11.0" fill="#000000"/>
<path d="M1442.8 1533.3 L1457.6 1559.0 L1428.0 1559.0Z" fill="#000000"/>
<circle cx="1455.8" cy="1532.6" r="11.0" fill="#000000"/>
<circle cx="1455.1" cy="1553.6" r="11.0" fill="#000000"/>
<circle cx="1477.5" cy="1551.4" r="11.0" fill="#000000"/>
<circle cx="1497.0" cy="1548.5" r="11.0" fill="#000000"/>
<path d="M1501.3 1533.3 L1516.1 1559.0 L1486.5 1559.0Z" fill="#000000"/>
<path d="M1506.4 1534.8 L1521.2 1560.5 L1491.6 1560.5Z" fill="#000000"/>
<circle cx="1530.2" cy="1552.8" r="11.0" fill="#000000"/>
<path d="M1573.6 1536.2 L1588.4 1561.9 L1558.8 1561.9Z" fill="#000000"/>
<path d="M1590.6 1525.4 L1605.4 1551.1 L1575.8 1551.1Z" fill="#000000"/>
<path d="M1616.6 1531.9 L1631.4 1557.6 L1601.8 1557.6Z" fill="#000000"/>
<path d="M1627.7 1526.8 L1642.5 1552.5 L1612.9 1552.5Z" fill="#000000"/>
<circle cx="1569.2" cy="1552.1" r="11.0" fill="#000000"/>
<circle cx="1580.8" cy="1552.8" r="11.0" fill="#000000"/>
<circle cx="1593.8" cy="1552.3" r="11.0" fill="#000000"/>
<circle cx="1609.7" cy="1552.3" r="11.0" fill="#000000"/>
<circle cx="1622.7" cy="1552.8" r="11.0" fill="#000000"/>
<g stroke="#333333" stroke-width="5.6" fill="none">
<rect x="159.3" y="10.6" width="1629.4" height="1623.2" stroke-linejoin="round"/>
<line x1="132.6" y1="1560.2" x2="159.3" y2="1560.2"/>
<line x1="132.6" y1="1396.2" x2="159.3" y2="1396.2"/>
<line x1="132.6" y1="1232.2" x2="159.3" y2="1232.2"/>
<line x1="132.6" y1="1068.1" x2="159.3" y2="1068.1"/>
<line x1="132.6" y1="904.1" x2="159.3" y2="904.1"/>
<line x1="132.6" y1="740.1" x2="159.3" y2="740.1"/>
<line x1="132.6" y1="576.1" x2="159.3" y2="576.1"/>
<line x1="132.6" y1="412.1" x2="159.3" y2="412.1"/>
<line x1="132.6" y1="248.0" x2="159.3" y2="248.0"/>
<line x1="132.6" y1="84.0" x2="159.3" y2="84.0"/>
<line x1="603.8" y1="1633.8" x2="603.8" y2="1660.6"/>
<line x1="1344.4" y1="1633.8" x2="1344.4" y2="1660.6"/>
</g>
<g font-family="'Liberation Sans', Arial, Helvetica, sans-serif" font-size="63.5" fill="#000" text-anchor="end">
<text x="126.4" y="1579.3">0</text>
<text x="126.4" y="1415.3">1</text>
<text x="126.4" y="1251.3">2</text>
<text x="126.4" y="1087.2">3</text>
<text x="126.4" y="923.2">4</text>
<text x="126.4" y="759.2">5</text>
<text x="126.4" y="595.2">6</text>
<text x="126.4" y="431.2">7</text>
<text x="126.4" y="267.1">8</text>
<text x="126.4" y="103.1">9</text>
</g>
<g font-family="'Liberation Sans', Arial, Helvetica, sans-serif" fill="#000">
<text transform="translate(443.8 1720.7) scale(1 1.036)" font-size="68.2">TCGA MEL</text>
<text transform="translate(1280.2 1721.0) scale(1 1.034)" font-size="69">NBL</text>
<text transform="translate(57.3 1270.9) rotate(-90) scale(1.0 1.071)" font-size="65">TERT Expression (FPKM)</text>
</g>
<g font-family="'Liberation Sans', Arial, Helvetica, sans-serif" font-size="51" fill="#000">
<text transform="translate(194.4 103.8) scale(1 1.046)">Color legend for somatic alterations</text>
<text transform="translate(323.7 179.8) scale(1 1.046)">No</text>
<text transform="translate(323.7 239.8) scale(1 1.046)">cis-activated candidates</text>
<text transform="translate(323.7 299.7) scale(1 1.046)">chr5.1295250.G.A</text>
<text transform="translate(323.7 359.7) scale(1 1.046)">chr5.1295228.G.A</text>
<text transform="translate(194.4 432.8) scale(1 1.046)">Neuroblastoma samples status</text>
<text transform="translate(323.7 504.0) scale(1 1.046)">Infiltrating immune cells</text>
<text transform="translate(323.7 562.7) scale(1 1.046)">Cell lines</text>
</g>
<circle cx="248.5" cy="161.9" r="13.2" fill="#000000"/>
<circle cx="248.5" cy="222.0" r="13.2" fill="#ff0000"/>
<circle cx="248.5" cy="282.1" r="13.2" fill="#0000ff"/>
<circle cx="248.5" cy="342.2" r="13.2" fill="#00ff00"/>
<path d="M248.3 466.0 L266.1 496.8 L230.5 496.8Z" fill="#000000"/>
<g fill="none" stroke="#000000" stroke-width="3.9" stroke-linecap="round"><circle cx="248.3" cy="542.4" r="13.2"/><path d="M235.1 529.2 L261.5 555.6 M235.1 555.6 L261.5 529.2"/></g>
</svg>
</body></html>
